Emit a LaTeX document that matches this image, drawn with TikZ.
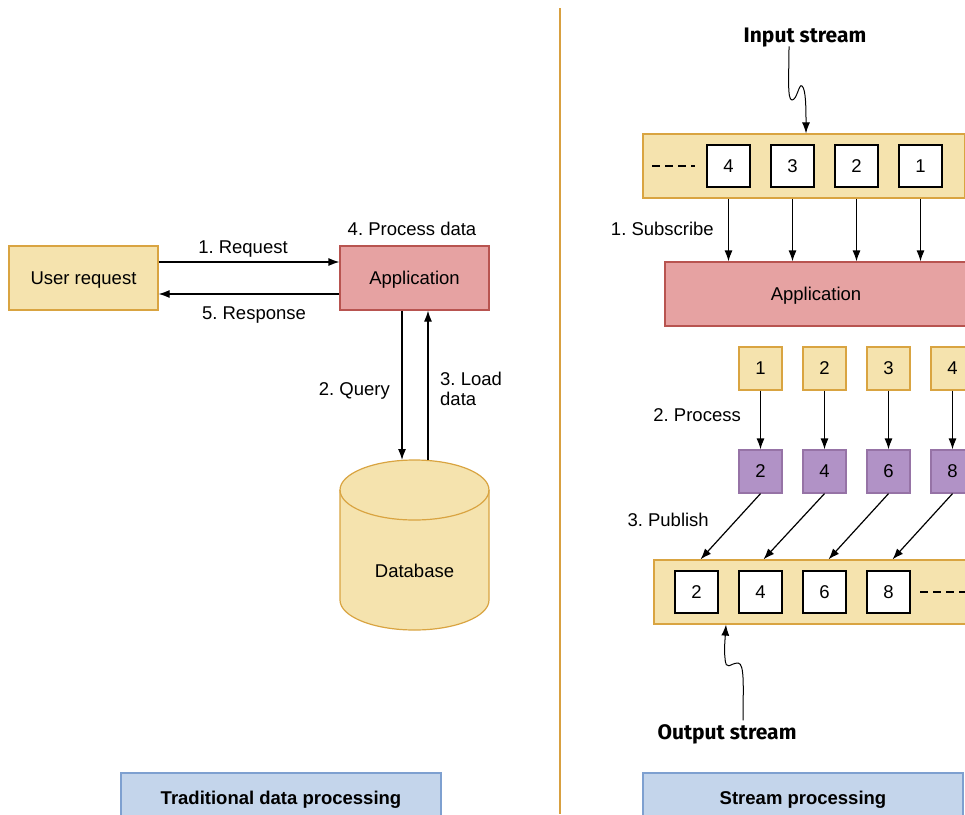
\documentclass[tikz,border=0pt]{standalone}
\usepackage{fontspec}
\setmainfont{Liberation Sans}
\newfontfamily\hfont{Fira Sans}
\usetikzlibrary{arrows.meta}
\definecolor{yfill}{HTML}{F5E3AE}
\definecolor{ydraw}{HTML}{D9A441}
\definecolor{rfill}{HTML}{E6A2A2}
\definecolor{rdraw}{HTML}{B85450}
\definecolor{pfill}{HTML}{B192C6}
\definecolor{pdraw}{HTML}{9673A6}
\definecolor{bfill}{HTML}{C4D5EB}
\definecolor{bdraw}{HTML}{7EA0D0}
\definecolor{divc}{HTML}{D8A040}
\frenchspacing
\begin{document}
\begin{tikzpicture}[x=1pt,y=-1pt,
  every node/.style={font=\fontsize{18.5}{21}\selectfont},
  box/.style={draw, line width=1.2pt, inner sep=0pt, anchor=center, text depth=0pt},
  ybox/.style={box, fill=yfill, draw=ydraw},
  rbox/.style={box, fill=rfill, draw=rdraw},
  pbox/.style={box, fill=pfill, draw=pdraw, minimum width=43pt, minimum height=43pt},
  ysq/.style={ybox, minimum width=43pt, minimum height=43pt},
  wsq/.style={box, fill=white, draw=black, minimum width=43pt, minimum height=42pt},
  bbox/.style={box, fill=bfill, draw=bdraw, font=\fontsize{18.5}{21}\selectfont\bfseries},
  arr/.style={-{Latex[length=11pt,width=8pt]}, line width=1.2pt},
  wavy/.style={-{Latex[length=11pt,width=8pt]}, line width=1pt},
  lbl/.style={inner sep=0pt, text depth=0pt},
  hlbl/.style={inner sep=0pt, text depth=0pt, font=\fontsize{21}{25}\selectfont\hfont\bfseries},
  dsh/.style={dash pattern=on 8pt off 5pt, line width=1.2pt}
]
\useasboundingbox (0,0) rectangle (965,814);

% divider
\draw[divc, line width=2pt] (560,8) -- (560,814);

% ---------- left side ----------
\node[ybox, minimum width=149pt, minimum height=64pt] (user) at (83.5,278) {User request};
\node[rbox, minimum width=149pt, minimum height=64pt] (app) at (414.5,278) {Application};
\draw[arr] ([yshift=16pt]user.east) -- ([yshift=16pt]app.west);
\draw[arr] ([yshift=-16pt]app.west) -- ([yshift=-16pt]user.east);
\node[lbl] (lreq) at (243,247) {1. Request};
\node[lbl] (lresp) at (254,313) {5. Response};
\node[lbl] (lproc) at (412,229) {4. Process data};

% database cylinder
\fill[yfill] (340,490) -- (340,600) arc[start angle=180,end angle=360,x radius=74.5pt,y radius=30pt]
  -- (489,490) arc[start angle=0,end angle=180,x radius=74.5pt,y radius=30pt] -- cycle;
\draw[ydraw, line width=1.2pt] (340,490) -- (340,600) arc[start angle=180,end angle=360,x radius=74.5pt,y radius=30pt]
  -- (489,490) arc[start angle=0,end angle=180,x radius=74.5pt,y radius=30pt];
\draw[ydraw, line width=1.2pt] (340,490) arc[start angle=180,end angle=360,x radius=74.5pt,y radius=30pt];
\node[lbl] (db) at (414.5,571) {Database};
\coordinate (dbq) at (402,460);
\coordinate (dbl) at (428,460);
\draw[arr] ([xshift=-12.5pt]app.south) -- (dbq);
\draw[arr] (dbl) -- ([xshift=13.5pt]app.south);
\node[lbl, anchor=east] (lquery) at (390,389) {2. Query};
\node[inner sep=0pt, anchor=west, align=left, font=\fontsize{18.5}{20.5}\selectfont] (lload) at (440,389) {3. Load\\data};

\node[bbox, minimum width=320pt, minimum height=50pt] (t1) at (281,798) {Traditional data processing};

% ---------- right side ----------
\node[hlbl] (instr) at (805,35) {Input stream};
\node[ybox, minimum width=322pt, minimum height=64pt] (inbuf) at (804,166) {};
\draw[dsh] (652,166) -- (695,166);
\node[wsq] (i4) at (728.5,166) {4};
\node[wsq] (i3) at (792.5,166) {3};
\node[wsq] (i2) at (856.5,166) {2};
\node[wsq] (i1) at (920.5,166) {1};
\draw[wavy] ([xshift=-16pt,yshift=-4pt]instr.south) .. controls (789,75) and (787,100) .. (792,100)
  .. controls (797,100) and (799,83) .. (802,86) .. controls (806,89) and (806,110) .. ([xshift=2pt]inbuf.north);

\node[rbox, minimum width=302pt, minimum height=64pt] (app2) at (816,294) {Application};
\node[lbl, anchor=east] (lsub) at (714,229) {1. Subscribe};
\foreach \n in {i4,i3,i2,i1} {
  \draw[arr] (\n |- inbuf.south) -- (\n |- app2.north);
}

\node[ysq] (y1) at (760.5,368.5) {1};
\node[ysq] (y2) at (824.5,368.5) {2};
\node[ysq] (y3) at (888.5,368.5) {3};
\node[ysq] (y4) at (952.5,368.5) {4};
\node[pbox] (p1) at (760.5,471.5) {2};
\node[pbox] (p2) at (824.5,471.5) {4};
\node[pbox] (p3) at (888.5,471.5) {6};
\node[pbox] (p4) at (952.5,471.5) {8};
\foreach \a/\b in {y1/p1,y2/p2,y3/p3,y4/p4} {
  \draw[arr] (\a.south) -- (\b.north);
}
\node[lbl, anchor=east] (lprocess) at (741,415) {2. Process};
\node[lbl, anchor=east] (lpub) at (709,520) {3. Publish};

\node[ybox, minimum width=313pt, minimum height=64pt] (outbuf) at (810.5,592) {};
\node[wsq] (o2) at (696.5,592) {2};
\node[wsq] (o4) at (760.5,592) {4};
\node[wsq] (o6) at (824.5,592) {6};
\node[wsq] (o8) at (888.5,592) {8};
\draw[dsh] (920,592) -- (968,592);
\draw[arr] (p1.south) -- ([xshift=4pt]o2 |- outbuf.north);
\draw[arr] (p2.south) -- ([xshift=3pt]o4 |- outbuf.north);
\draw[arr] (p3.south) -- ([xshift=4pt]o6 |- outbuf.north);
\draw[arr] (p4.south) -- ([xshift=4pt]o8 |- outbuf.north);

\node[hlbl] (outstr) at (727,732) {Output stream};
\draw[wavy] ([xshift=16pt,yshift=4pt]outstr.north) .. controls (743,690) and (745,663) .. (738,663)
  .. controls (730,663) and (726,672) .. (725,658) .. controls (724,650) and (725,640) .. ([xshift=-84.5pt]outbuf.south);

\node[bbox, minimum width=320pt, minimum height=50pt] (t2) at (803,798) {Stream processing};
\end{tikzpicture}
\end{document}
